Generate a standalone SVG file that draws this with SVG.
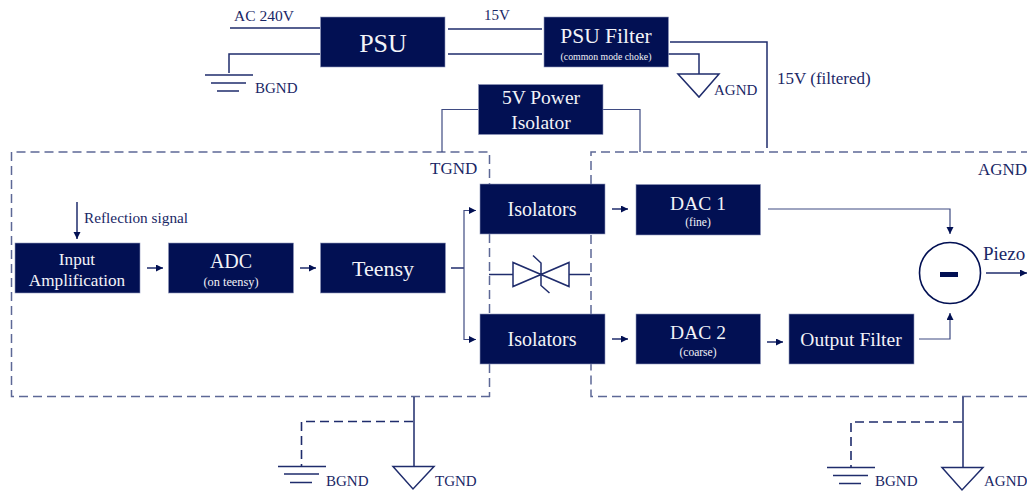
<svg xmlns="http://www.w3.org/2000/svg" width="1027" height="492" viewBox="0 0 1027 492">
<defs>
<style>
text{font-family:"Liberation Serif","Times New Roman",serif;text-anchor:middle}
.b{fill:#021053;stroke:#8f97bb;stroke-width:.6}
.w{fill:#f2f3f8}
.l{fill:#1a2766;text-anchor:start}
.c{fill:none;stroke:#1f2c6c;stroke-width:1.5}
.t{fill:none;stroke:#3f4b82;stroke-width:1.2}
.d{fill:none;stroke:#5d6896;stroke-width:1.5;stroke-dasharray:9 5}
.g{fill:none;stroke:#1f2c6c;stroke-width:1.6;stroke-dasharray:9 5}
</style>
<marker id="a" markerUnits="userSpaceOnUse" markerWidth="8" markerHeight="8" refX="7" refY="3.5" orient="auto"><path d="M0 0L7 3.5L0 7z" fill="#021053"/></marker>
</defs>
<g id="connectors">
<path class="d" d="M490 396.500H11.500V152H489.500V184M489.500 234V314M489.500 364V397"/>
<path class="d" d="M1027 396.500H591V364M591 314V234M591 184V152H1027"/>
<path class="c" d="M230 28H320M229 73V54H320M448 29H542M448 54H542M670 42H767V148M668 54H699V74"/>
<path class="t" d="M478 109.500H442V152M603 109.500H640V152"/>
<path class="c" d="M205 75H253M211 83H246M217 91H239"/>
<path class="c" d="M678 74H719L699 97Z"/>
<path class="c" marker-end="url(#a)" d="M77 202V239"/>
<path class="c" marker-end="url(#a)" d="M147 268H163"/>
<path class="c" marker-end="url(#a)" d="M300 268H316"/>
<path class="c" d="M451 268H464"/>
<path class="t" marker-end="url(#a)" d="M464 268V210.500H476"/>
<path class="t" marker-end="url(#a)" d="M464 268V339.500H476"/>
<path class="c" marker-end="url(#a)" d="M612 209H628"/>
<path class="c" marker-end="url(#a)" d="M612 339H628"/>
<path class="c" marker-end="url(#a)" d="M767 342H783"/>
<path class="t" marker-end="url(#a)" d="M768 209H950V234"/>
<path class="t" marker-end="url(#a)" d="M919 339H950V313"/>
<path class="c" marker-end="url(#a)" d="M986 273H1027"/>
<path class="c" d="M489 274.500H513M569 274.500H590M513 262.500V286.500L569 262.500V286.500ZM533 255.500L541 263V285.500L549.500 293"/>
<path class="c" d="M414 397V466M963 397V467"/>
<path class="g" d="M413 421.500H301.500V466M962 422H851V467"/>
<path class="c" d="M278 466.500H326M284 474H319M290 482.500H312"/>
<path class="c" d="M827 467.500H875M833 475.500H868M839 483.500H861"/>
<path class="c" d="M393 466.500H434L413 489Z"/>
<path class="c" d="M942 467.500H983L962 490Z"/>
</g>
<text class="l" x="234" y="21" font-size="15.500">AC 240V</text>
<text class="l" x="484" y="20" font-size="15">15V</text>
<text class="l" x="255" y="93" font-size="15">BGND</text>
<text class="l" x="714" y="95" font-size="15">AGND</text>
<text class="l" x="777" y="84" font-size="17">15V (filtered)</text>
<text class="l" x="430" y="174" font-size="17">TGND</text>
<text class="l" x="978" y="175" font-size="17">AGND</text>
<text class="l" x="84" y="223" font-size="15.300">Reflection signal</text>
<text class="l" x="983" y="260" font-size="19">Piezo</text>
<text class="l" x="326" y="486" font-size="15">BGND</text>
<text class="l" x="435" y="486" font-size="15">TGND</text>
<text class="l" x="875" y="486" font-size="15">BGND</text>
<text class="l" x="984" y="486" font-size="15">AGND</text>
<g id="psu"><rect class="b" x="320.500" y="17" width="124.500" height="50"/><text class="w" x="383" y="52" font-size="26">PSU</text></g>
<g id="psu-filter"><rect class="b" x="544" y="17" width="124.500" height="50"/><text class="w" x="606" y="43" font-size="21.500">PSU Filter</text><text class="w" x="606" y="60" font-size="9.800">(common mode choke)</text></g>
<g id="power-isolator"><rect class="b" x="478.500" y="84.500" width="124.500" height="50"/><text class="w" x="541" y="104" font-size="19.500">5V Power</text><text class="w" x="541" y="129" font-size="19.500">Isolator</text></g>
<g id="input-amp"><rect class="b" x="15" y="243" width="125" height="50"/><text class="w" x="77" y="265" font-size="17.200">Input</text><text class="w" x="77" y="286" font-size="17.200">Amplification</text></g>
<g id="adc"><rect class="b" x="168.500" y="243" width="125" height="50"/><text class="w" x="231" y="268" font-size="20">ADC</text><text class="w" x="231" y="286" font-size="12.300">(on teensy)</text></g>
<g id="teensy"><rect class="b" x="320.500" y="243" width="125" height="50"/><text class="w" x="383" y="276" font-size="22">Teensy</text></g>
<g id="isolators-1"><rect class="b" x="480" y="184" width="125" height="50"/><text class="w" x="542" y="216" font-size="20">Isolators</text></g>
<g id="isolators-2"><rect class="b" x="480" y="314" width="125" height="50"/><text class="w" x="542" y="346" font-size="20">Isolators</text></g>
<g id="dac-1"><rect class="b" x="636" y="184.500" width="124.500" height="50.500"/><text class="w" x="698" y="210" font-size="19.500">DAC 1</text><text class="w" x="698" y="226" font-size="11.500">(fine)</text></g>
<g id="dac-2"><rect class="b" x="636" y="314" width="124.500" height="50"/><text class="w" x="698" y="339" font-size="19.500">DAC 2</text><text class="w" x="698" y="356" font-size="11.500">(coarse)</text></g>
<g id="output-filter"><rect class="b" x="789" y="314" width="125" height="50"/><text class="w" x="851" y="346" font-size="19.500">Output Filter</text></g>
<g id="subtractor"><circle cx="950" cy="273" r="30.500" fill="#fff" stroke="#021053" stroke-width="1.6"/><rect x="940" y="272" width="18" height="5" fill="#021053"/></g>
</svg>
